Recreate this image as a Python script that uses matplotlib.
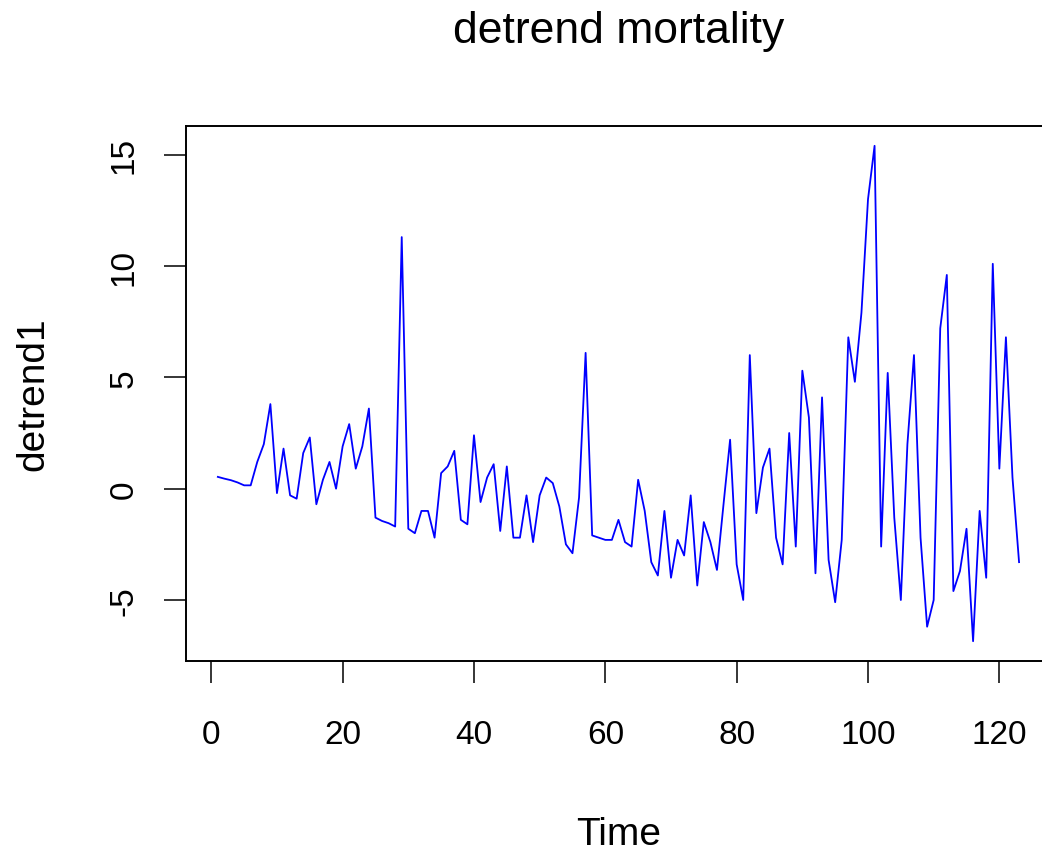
import numpy as np
import matplotlib
matplotlib.use('Agg')
import matplotlib.pyplot as plt

# detrended mortality series (t = 1..123)
time = np.arange(1, 124)
detrend1 = [
    0.53, 0.45, 0.38, 0.28, 0.15, 0.15, 1.2, 2.0, 3.8, -0.2,
    1.8, -0.3, -0.45, 1.6, 2.3, -0.7, 0.4, 1.2, 0.0, 1.9,
    2.9, 0.9, 1.9, 3.6, -1.3, -1.45, -1.55, -1.7, 11.3, -1.8,
    -2.0, -1.0, -1.0, -2.2, 0.7, 1.0, 1.7, -1.4, -1.6, 2.4,
    -0.6, 0.5, 1.1, -1.9, 1.0, -2.2, -2.2, -0.3, -2.4, -0.3,
    0.5, 0.25, -0.8, -2.5, -2.9, -0.4, 6.1, -2.1, -2.2, -2.3,
    -2.3, -1.4, -2.4, -2.6, 0.4, -1.0, -3.3, -3.9, -1.0, -4.0,
    -2.3, -3.0, -0.3, -4.35, -1.5, -2.4, -3.65, -0.7, 2.2, -3.4,
    -5.0, 6.0, -1.1, 0.95, 1.8, -2.2, -3.4, 2.5, -2.6, 5.3,
    3.2, -3.8, 4.1, -3.2, -5.1, -2.3, 6.8, 4.8, 7.9, 13.0,
    15.4, -2.6, 5.2, -1.3, -5.0, 2.0, 6.0, -2.2, -6.2, -5.0,
    7.2, 9.6, -4.6, -3.7, -1.8, -6.85, -1.0, -4.0, 10.1, 0.9,
    6.8, 0.5, -3.3,
]
xticks = [0, 20, 40, 60, 80, 100, 120]
yticks = [-5, 0, 5, 10, 15]

plt.rcParams['font.family'] = ['Liberation Sans', 'DejaVu Sans']

W, H = 1042, 854
fig = plt.figure(figsize=(W / 100, H / 100), dpi=100)
# plot region in pixels: left 186, top 127, bottom 662, right runs past the image edge
left, right, top, bottom = 185.8, 1051.1, 127, 662
ax = fig.add_axes([left / W, (H - bottom) / H, (right - left) / W, (bottom - top) / H])

ax.plot(time, detrend1, color='blue', linewidth=1.3)

# R-style 4% padding
xr = time[-1] - time[0]
ax.set_xlim(time[0] - 0.04 * xr, time[-1] + 0.04 * xr)
yr = max(detrend1) - min(detrend1)
ax.set_ylim(min(detrend1) - 0.04 * yr, max(detrend1) + 0.04 * yr)

ax.set_xticks(xticks)
ax.set_yticks(yticks)
ax.set_yticklabels([str(v) for v in yticks], rotation=90, va='center')
ax.tick_params(direction='out', length=16, width=1.1, labelsize=24, colors='black')
ax.tick_params(axis='x', pad=26)
ax.tick_params(axis='y', pad=17)
for s in ax.spines.values():
    s.set_linewidth(1.4)

ax.set_title('detrend mortality', fontsize=32, y=(bottom - 32) / (bottom - top), va='center', pad=0)
ax.set_xlabel('Time', fontsize=28, va='center')
ax.xaxis.set_label_coords(0.5, (bottom - 835) / (bottom - top))
ax.set_ylabel('detrend1', fontsize=28, va='center', ha='center')
ax.yaxis.set_label_coords((33 - left) / (right - left), 0.5)

fig.savefig('out.png', dpi=100)
